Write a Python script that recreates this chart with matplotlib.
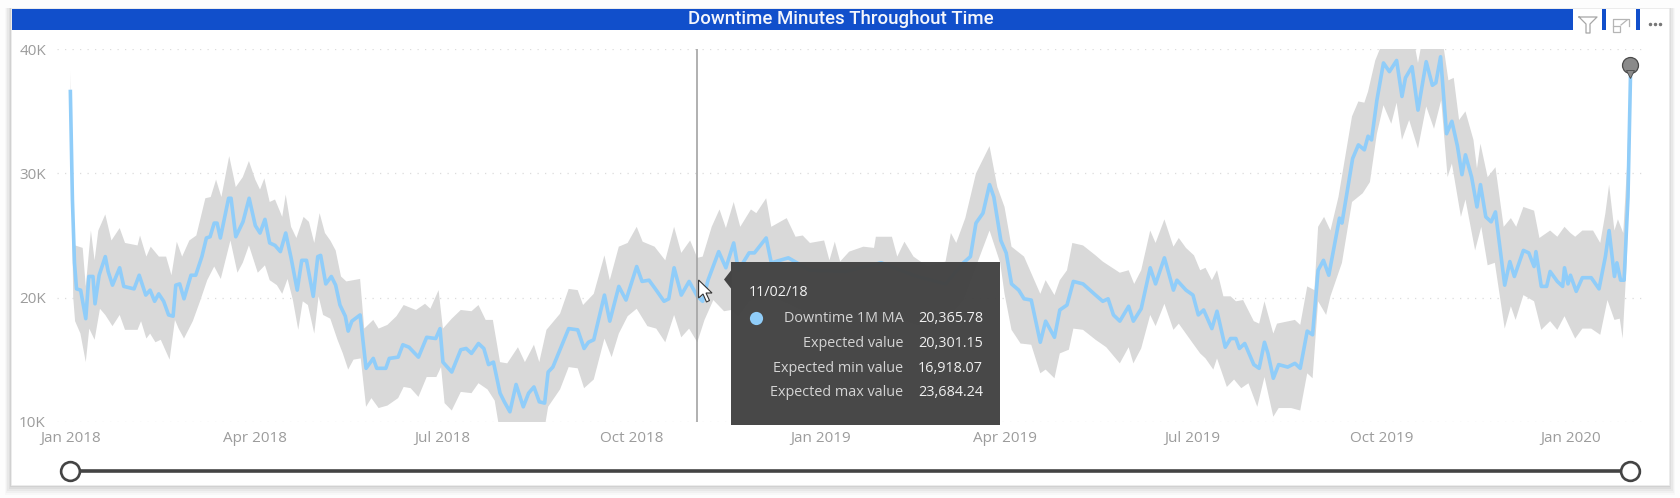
import numpy as np
import matplotlib
matplotlib.use('Agg')
import matplotlib.pyplot as plt
import matplotlib.dates as mdates
from matplotlib.patches import Rectangle, Polygon
from matplotlib.ticker import FuncFormatter

# days since START and values in thousands
START=np.datetime64('2018-01-01')
HOVER_DAY=305
YTICKS=[10000,20000,30000,40000]

line_days=[0,1,2,3,5,7.5,9,11,12,14,16,17,18.4,20.5,24,26,31,33.5,36.7,38.8,41,43,45.4,47.8,50,51.3,53.2,55.3,58.7,61,64,66.2,68,70,71.4,73,77,78.2,80.5,84,87,90,92.3,94.7,97,99.6,102.2,104.8,107.4,110.4,112.6,114.9,118.2,120.4,121.8,124.3,127,129.1,131.2,133.8,135.2,137,141,143.9,147.4,149.1,153.5,155.2,159.5,161.8,164.8,169.4,173.4,177.8,179.9,181.3,185.6,190,192.6,195.2,198.6,201.2,203.5,205.9,209.1,211.2,213.9,216.9,220.4,223,225.6,228.2,230.8,232.5,234.8,238.3,
  242.5,246.9,250,252.1,254.7,259.9,262.5,266.9,270.4,275.6,278.2,281.6,285.1,288.9,291.2,293.8,297.3,301.1,305.1,307.7,310.3,312.1,315.5,319,322.8,325.1,330.3,332.9,338.6,341.1,349.4,359.9,377.2,394.6,412,425.9,434.6,438,440.7,444.1,447.3,449.4,452.8,455.4,458,461.5,464.1,467.6,472,474.6,478.9,481.5,485,488.1,492.8,498.9,502.4,505,507.6,510.7,
  515,517.3,521.1,525.5,528.1,532.4,536.8,538.5,542.9,546.3,548.9,551.5,555.5,558,562,564.6,567.2,568.9,571.5,575.9,578.5,581.1,582.8,585.4,588,592.4,595.9,598.5,601.9,604.5,607.2,609.8,612.4,617.6,618.8,624,626.8,629.7,631.5,633.2,635.8,639,641.9,645.4,648,649.7,652.9,655.8,659.8,662.8,664.5,666.8,669.7,672.3,675,677.2,678.9,681.9,684.5,686.2,688.8,691.4,693.5,698,700.5,702.7,707.1,709.7,712.3,713.2,715.8,718.4,720.1,723.6,726.2,727.1,728.8,730,732.8,735.8,740.1,743.9,747,748.8,751.4,752.6,754.4,756.1,757.5,758,759.2]
line_vals=[36.6,27.9,22.8,20.7,20.6,18.3,21.7,21.7,19.5,21.8,22.8,23.3,22.1,21,22.4,20.9,20.7,21.8,20.2,20.6,19.7,20.3,19.7,18.6,18.5,21,21.1,19.9,21.8,21.8,23.3,24.8,24.9,26,26,24.8,28,28,24.9,26.1,28,25.8,25.2,26.3,24.4,24.2,23.7,25.2,23.2,20.6,23,23,20.1,23.3,23.4,21.1,21.7,21,19.4,18.5,17.3,18.1,18.6,14.3,15.1,14.3,14.3,15.1,15.2,16.2,16,15.2,16.8,16.7,17.5,14.8,14,15.8,15.9,15.5,16.3,15.9,14.6,14.8,12.3,11.6,10.8,13,11.2,12.3,12.8,11.6,11.5,14,14.4,15.8,
  17.5,17.4,15.9,16.4,16.6,20.2,18.1,20.9,19.8,22.5,21.3,21.4,20.6,19.7,19.9,22.4,20.2,21.3,20.1,19.7,21.4,22.2,23.7,22.4,24.4,22.2,23.6,23.6,24.8,22.8,23.2,22.2,22.1,22.8,21.7,21.1,22.8,23.3,26,26.8,29.1,28.1,24.6,23.6,21.1,20.6,19.9,19.8,16.4,18.1,16.8,19,19.4,21.3,21.1,20.2,19.7,19.9,18.6,18.1,
  19.3,18.1,19.1,22.4,21.1,23.2,20.6,21.4,20.6,20.2,18.6,19,17.5,18.9,16,16.7,16.7,15.9,16.3,14.6,14.3,16.4,15.5,13.5,14.6,14.4,14.7,14.3,17.3,17,22.2,23,21.8,26.4,26,31.2,32.3,31.9,33,32.7,35.9,38.9,38.2,39.1,36.2,37.7,38.6,35.1,39,37.1,37.3,39.4,33.2,34.2,32.2,29.9,31.5,29.7,27.3,29.1,26.5,26.1,26.9,21,22.9,21.7,23.8,23.6,22.5,23.7,20.9,20.9,22.1,21.3,20.9,22.4,21.1,21.8,20.5,21.6,21.6,20.7,23.3,25.4,21.7,22.8,21.4,21.4,26.3,28.1,37.8]

upper_days=[0,1.4,2.3,6,7.5,10,11.8,13.6,17,20,24,26.6,32.7,33.9,37,39.1,43.1,46.6,49.2,51.8,54.4,57.9,61.3,65.7,68.3,70.9,73.5,77.3,80.5,83.9,86.9,90,92.3,94.4,97,99.6,103.1,104.8,107.4,110,113.5,116.1,118.7,121.3,123.9,126.5,129.1,131.7,134.3,141,143,147.4,150,154.3,158.7,162.2,168.2,172.6,175.2,179.2,181.3,185.6,190,195.2,198.6,202.1,205.6,209.1,212.6,217.8,221.2,225.6,228.2,231.7,238.3,
  242.5,246.9,249.5,254.7,259.9,262.5,266.9,271.2,275.6,278.5,284.3,289.5,293.8,297.3,301.6,305.1,307.7,312.1,315.9,319,322.8,326,331.2,333.8,338.6,341.1,348.6,352.9,356.4,359.9,366.8,369.4,372,374.6,379,385.9,391.1,392,399.8,402.4,405.9,410.3,417.2,425.9,428.5,431.1,435.5,440.7,447.3,451.1,454.6,458,464.1,472,474.6,478.9,481.5,485,487.6,492.8,498.9,502.4,510.7,
  515,517.7,521.1,525.5,528.1,532.4,536.8,539.4,542.9,546.8,549.8,552.4,555.5,558,561.1,564.6,567.2,570.7,575.9,578.5,581.1,585.4,587.2,595.9,598.5,601.9,605.4,607.2,610.1,613.2,617.1,623.7,626.8,629.7,631.5,635,638.4,654,655.8,657.6,668,670.6,673.2,675.8,678.9,682.8,684.5,686.2,689.7,693.5,697.5,701,703.6,707.1,712.3,714.9,720.1,723.6,727.1,730,732.3,735.8,741,744.5,747,748.8,751.4,753.1,755.7,757.5,759.2]
upper_vals=[38.2,25.2,24.2,24,20.9,25.4,23,25.4,26.7,24.6,25.6,24.4,24.2,25,23.3,24.1,23.3,23.3,21.8,24.5,23.3,24.6,25,28,28.1,29.5,28.1,31.4,28.9,29.7,31,29.5,28.7,29.6,27.7,27.9,26.5,28.3,25.7,24.8,26.5,26.1,24.4,26.8,25.2,24.6,23.8,21.7,21.3,21.5,17.5,18.2,17.5,17.8,18.5,19.4,19,19.5,19.1,20.6,17.5,18.3,19,18.9,19.4,18.2,18.2,14.8,14.7,16,14.8,16.2,14.8,17.4,18.7,
  20.7,20.6,19.4,20.3,23.4,21.4,24.1,24.4,25.7,24.5,24.1,23,25.7,23.6,24.6,23.2,23.3,25.7,27.1,25.6,27.7,25.7,27.1,26.8,28,25.7,26.4,24.9,25,24.4,24.6,23,24.5,22.9,23.7,24.1,24,24.9,24.9,23.3,24.5,23.3,22.5,22.9,25.2,24.4,26.4,30,32.2,28.9,27.3,24.1,23.3,20.3,21.4,20.2,21.4,22.2,24.4,24.2,23.4,22.9,22,
  22.2,21.1,22.2,25.4,24.4,26.3,24.1,24.8,24,23.4,22.2,22.4,21.4,22.2,20.1,20.1,19.7,19.8,18.1,17.9,19.7,17.1,17.9,18.2,17.8,20.9,20.6,25.7,26.5,25.4,28.1,34.6,35.8,35.7,36.6,39.1,40.5,40.5,38.9,40.5,40.5,37.5,37.7,34.3,35,32.7,30.4,32.4,29.7,30.5,25.7,26.4,25.7,27.3,27,24.8,25.4,24.9,25.7,25.2,24.9,25.4,25.4,24.4,26.8,29.1,25.4,26.3,25.2,30.5,38.6]

lower_days=[0,1.4,2.3,4.9,7.5,9.2,11.8,14.4,17,20.5,24,26.6,32.7,34.4,37,38.8,41.4,44,48.3,50.9,52.7,55.3,59.6,63.1,66.6,70,73.2,77.9,81.3,83.9,86.9,91.2,94.7,97,100.5,103.1,105.7,108.3,110.9,113.1,115.6,118.7,120.8,123,126.5,130,132.6,135.2,137.8,141.3,143.9,146.5,150,154.3,159.5,162.2,165.6,169.4,173.4,178.1,180.4,182.1,185.6,190,195.2,198.6,203,206.5,208.2,209.1,213.9,216.9,220.4,225.6,230.8,232.5,238.3,
  242.5,246.9,250,254.7,259.9,263.4,266.9,271.2,275.6,280.8,285.1,289.5,293.8,297.3,301.1,305.1,308.6,312.9,318.1,321.6,325.1,330.3,338.6,349.4,359.9,377.2,394.6,412,425.9,434.6,440.7,447.3,452.5,454.6,458,462.4,467.6,472,474.6,478.9,481.5,485.9,488.1,492.8,498.9,504.1,510.7,
  515,517.3,521.1,525.5,528.1,532.4,536.8,539.4,546.3,549.8,552.4,556.2,558,562.8,566.3,569.8,573.3,577.6,581.1,585.4,588,594.1,598.5,601.9,604.5,607.2,611.1,613.2,618.8,623.7,628.9,632.4,635.8,639,642.8,645.4,648,651.5,655.8,659.8,663.6,667.1,670.2,672.3,676.7,678.9,683.6,686.6,689.7,693.2,698,701,703.3,707.1,712.3,715.8,720.1,723.6,727.1,732.3,735.8,740.1,744.5,748,751.4,754,755.4,757.5,759.2]
lower_vals=[35.5,20,18.1,17.1,14.8,17.5,16.6,19.1,18.6,17.7,18.6,17.4,17.4,18.1,16.7,17.1,16.4,16.6,15,18.2,17.5,16.7,18.1,19.7,21.4,22.5,21.5,24.6,22,22.8,24.2,22,22.6,21.4,21,20.3,21.5,19.8,17.4,19.7,19.4,17.1,20.1,18.6,18.3,16.6,15.5,14.2,15,15.1,11.2,11.9,11.1,11.3,11.9,12.8,12.7,12,13.6,13.6,14.4,11.5,10.9,12.4,12.3,13.1,12.6,11.7,10,9.6,9,9.9,9.3,9.9,9.5,11.2,12.6,
  14.4,14.3,12.7,13.4,16.7,15.2,17.1,18.5,19.1,17.7,17.5,16.4,18.6,16.8,17.5,16.4,18.2,19.8,18.9,19,18.5,19.7,20.3,19.5,18.7,18.5,18.9,17.8,18.2,19.8,22.5,25.4,22.8,20.3,17.4,16.3,16.2,13.9,14.2,13.5,15.5,15.8,17.5,17.4,16.6,16,14.7,
  16,14.7,15.9,18.6,17.7,19.5,17.4,17.9,16.3,15.5,15.1,14.2,15.1,12.8,13.4,12.7,13.1,11.2,13.6,10.4,11.1,11.1,10.9,13.9,13.5,19.7,18.6,20.1,22.8,27.7,28.4,29.3,33.2,35.5,34,35.7,32.7,34.3,32,35.4,33.6,35.9,29.7,30.8,26.5,27.9,23.8,25.7,22.6,22.8,17.5,19.3,18.2,20.2,19.7,17.4,18.1,17.4,18.5,16.7,17.5,17.5,17,19.8,18.2,18.3,16.7,23.3,35.9]

tip_date='11/02/18'
tip_labels=['Downtime 1M MA','Expected value','Expected min value','Expected max value']
tip_values=['20,365.78','20,301.15','16,918.07','23,684.24']

BLUE='#114fcb'
LINE='#90cdf9'
BAND='#d9d9d9'
TICK='#9c9c9c'
FONT=['Open Sans','DejaVu Sans']
W,H=1680,498

plt.rcParams['font.family']=FONT

def to_dates(days):
  return mdates.date2num(START)+np.array(days,dtype=float)

def K(vals):
  return np.array(vals)*1000.0

def px_axes(fig,left,top,right,bottom,**kw):
  return fig.add_axes([left/W,1-bottom/H,(right-left)/W,(bottom-top)/H],**kw)

fig=plt.figure(figsize=(W/100,H/100),dpi=100,facecolor='#fdfdfd')

# card, shadow and header, in pixels
bg=fig.add_axes([0,0,1,1],zorder=0)
bg.set_xlim(0,W); bg.set_ylim(H,0); bg.axis('off')
for i,a in enumerate([0.03,0.05,0.07,0.09,0.11]):
  grow=10-2*i
  bg.add_patch(Rectangle((11-grow*0.6,8),1658+grow*1.2,477+grow,fc='#777777',ec='none',alpha=a))
bg.add_patch(Rectangle((11,8),1658,477,fc='white',ec='#eeeeee',lw=0.5))
bg.add_patch(Rectangle((11.5,8.5),1561.5,21.5,fc=BLUE,ec='none'))
bg.add_patch(Rectangle((1602,8.5),4,21,fc=BLUE,ec='none'))
bg.add_patch(Rectangle((1636,8.5),4,21,fc=BLUE,ec='none'))
bg.text(841,19,'Downtime Minutes Throughout Time',color='#f4f6fc',fontsize=13.4,
  fontweight='medium',ha='center',va='center',fontfamily=['Roboto','DejaVu Sans'])
bg.plot([1579,1597,1590,1590,1586,1586,1579],[17,17,24,33,33,24,17],color='#a6a6a6',lw=0.9)
bg.plot([1613,1613,1629,1629],[26,18.5,18.5,26],color='#b5b5b5',lw=0.9)
bg.add_patch(Rectangle((1613,26),7,6,fc='none',ec='#b5b5b5',lw=0.9))
bg.plot([1621,1627],[25,20],color='#b5b5b5',lw=0.9)
bg.plot([1650,1655,1660],[23.5,23.5,23.5],ls='none',marker='o',ms=1.5,color='#777777')

# range slider
bg.plot([70,1630],[470.7,470.7],color='#444444',lw=2.6,solid_capstyle='butt')
bg.plot([69.5,1630],[470.7,470.7],ls='none',marker='o',ms=13.5,mfc='white',mec='#444444',mew=1.9)

# chart
ax=px_axes(fig,57,49.3,1643,421.7,zorder=1)
ax.patch.set_alpha(0)
ax.set_xlim(to_dates([-6.5])[0],to_dates([765.3])[0])
ax.set_ylim(10000,40000)
ax.fill(np.r_[to_dates(upper_days),to_dates(lower_days)[::-1]],
  np.r_[K(upper_vals),K(lower_vals)[::-1]],color=BAND,lw=0,zorder=2)
ax.plot(to_dates(line_days),K(line_vals),color=LINE,lw=2.6,solid_joinstyle='round',zorder=3)
ax.axvline(to_dates([HOVER_DAY])[0],color='#a3a3a3',lw=1.2,zorder=4)
end_x=to_dates(line_days)[-1]
ax.plot([end_x],[38700],marker='o',ms=11.5,mfc='#8a8a8a',mec='#4a4a4a',mew=0.9,zorder=5,clip_on=False)
ax.plot([end_x],[38000],marker='v',ms=6,mfc='#8a8a8a',mec='#4a4a4a',mew=0.6,zorder=5,clip_on=False)

ax.set_yticks(YTICKS)
ax.yaxis.set_major_formatter(FuncFormatter(lambda v,p:f'{v/1000:.0f}K'))
ax.xaxis.set_major_locator(mdates.MonthLocator(bymonth=(1,4,7,10)))
ax.xaxis.set_major_formatter(mdates.DateFormatter('%b %Y'))
ax.tick_params(axis='both',length=0,labelsize=11,labelcolor=TICK)
ax.tick_params(axis='y',pad=8)
ax.tick_params(axis='x',pad=7)
for s in ax.spines.values():
  s.set_visible(False)
ax.grid(axis='y',color='#dcdcdc',lw=0.9,ls=(0,(1,5)),zorder=1)
ax.set_axisbelow(True)

# tooltip and cursor on top
top=fig.add_axes([0,0,1,1],zorder=2)
top.set_xlim(0,W); top.set_ylim(H,0); top.axis('off'); top.patch.set_alpha(0)
top.add_patch(Rectangle((731.4,261.7),268.6,163,fc='#444444',ec='none',alpha=0.98))
top.add_patch(Polygon([(731.4,270),(724,279.5),(731.4,289)],fc='#444444',ec='none'))
top.text(749,292,tip_date,color='#f2f2f2',fontsize=10.4,va='center')
top.plot([756],[318.3],marker='o',ms=9.5,color=LINE,mec='none')
for y,lab,val in zip([318.3,343.3,368.3,392.7],tip_labels,tip_values):
  top.text(903.6,y,lab,color='#d4d4d4',fontsize=10.4,ha='right',va='center')
  top.text(917.9,y,val,color='#f0f0f0',fontsize=10.4,ha='left',va='center')
top.add_patch(Polygon([(698.6,280),(698.6,298),(703,294),(706.5,302),(709.5,300.5),(706,293),(712,293)],
  fc='white',ec='#333333',lw=0.8,zorder=6))

fig.savefig('out.png',dpi=100,facecolor=fig.get_facecolor())
